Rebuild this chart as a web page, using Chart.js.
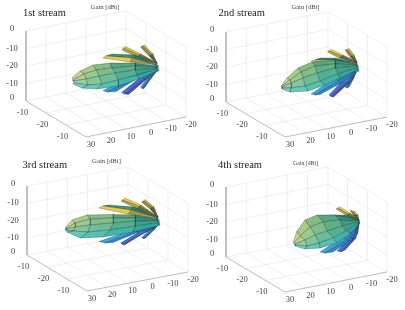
<!DOCTYPE html>
<html>
<head>
<meta charset="utf-8">
<title>Gain per stream</title>
<script src="https://cdn.jsdelivr.net/npm/chart.js@4"></script>
<style>
    body { margin: 0; background: #fff; }
    canvas { position: absolute; filter: blur(0.35px); }
</style>
</head>
<body>
<script>
// tick labels, same on all four panels
const zTickLabels = ["0", "-10", "-20", "-10", "0"];
const xTickLabels = ["30", "20", "10", "0", "-10", "-20"];
const yTickLabels = ["-10", "-20", "-10"];
const streamTitles = ["1st stream", "2nd stream", "3rd stream", "4th stream"];

// box corners: left top, left bottom, front, right
const stream1Box = [[26, 31], [26, 101], [86, 137], [186, 117]];
const stream2Box = [[21, 32], [21, 102], [80, 137], [182, 117]];
const stream3Box = [[27, 31], [27, 100], [87, 136], [188, 117]];
const stream4Box = [[21, 32], [21, 102], [80, 137], [182, 117]];

// facet colours, apex to nose, top strip to bottom strip
const mainColors = [
    ["#35907a", "#55a67e", "#86bb82", "#aaca86", "#c8d48e"],
    ["#3c9b80", "#5fb088", "#7fbe8a", "#9bc98e", "#b4d194"],
    ["#38a28c", "#52b094", "#6cbd98", "#82c69c", "#95cea2"],
    ["#33a8a2", "#44b4aa", "#55c0b2", "#64c8ba", "#74cfc4"]
];
const yellowColors = [["#8f8440", "#f0d23c"], ["#666a3c", "#b9a648"]];
const brownColors = [["#777242", "#c9ad4a"], ["#565c3c", "#968a44"]];
const leftColors = [["#2a7a6c", "#438f76"], ["#a89c44", "#eccc42"]];
const blueColors = [["#2f94c8", "#3ba2dc"], ["#2c80c4", "#2f86cc"]];
const deepColors = [["#3384c8", "#3f70d0"], ["#3a68bc", "#5048b4"]];
const nearColors = [["#2f84c4", "#3a8ed0"], ["#2c68a8", "#3a5aa8"]];
const capColors = [["#2fa09c", "#3bb0a6"]];

// lobe lines, each one runs apex to tip, stacked top to bottom
const stream1Main = [
    [[157, 66], [135, 63], [110, 63], [93, 65], [80, 71], [72, 78]],
    [[157, 67], [135, 66], [112, 68], [96, 70], [84, 74], [73, 80]],
    [[157, 68], [135, 70], [115, 73], [99, 76], [86, 79], [73, 81]],
    [[157, 69], [137, 75], [118, 80], [102, 84], [88, 85], [74, 83]],
    [[157, 71], [139, 79], [118, 86], [97, 89], [82, 88], [73, 84]]
];
const stream1Up = [
    [[157, 63], [141, 54], [125, 46.5]],
    [[157, 63], [139, 55], [123.5, 48]],
    [[157, 64], [137, 57], [122, 50]]
];
const stream1Back = [
    [[157, 63], [153, 54], [144.5, 45]],
    [[157, 63], [151, 54.5], [142.5, 46]],
    [[157, 64], [149, 56], [140.5, 47]]
];
const stream1Left = [
    [[157, 65], [135, 55], [112, 54]],
    [[157, 65], [132, 58], [106, 56]],
    [[157, 65], [130, 62], [103, 58]]
];
const stream1LowA = [
    [[157, 69], [133, 76], [103, 90.5]],
    [[157, 70], [135, 78.5], [107, 92]],
    [[157, 70], [138, 78], [116, 91.5]]
];
const stream1LowB = [
    [[157, 70], [142, 76], [121.5, 92.5]],
    [[157, 70], [144, 79], [124.5, 94]],
    [[157, 71], [148, 78], [128.5, 94.5]]
];
const stream1LowC = [
    [[157, 70], [150, 75], [140.5, 87]],
    [[157, 70], [151.5, 76.5], [142, 88.5]],
    [[157, 71], [153, 76], [144, 88.5]]
];
const stream1Cap = [[[155, 64], [158, 65]], [[155, 72], [159, 71]]];

const stream2Main = [
    [[152, 64], [130, 60], [107, 62], [93, 68], [82, 78], [76, 86]],
    [[152, 65], [130, 64], [110, 66], [96, 72], [85, 80], [77, 86]],
    [[152, 66], [130, 68], [112, 73], [98, 78], [86, 83], [77, 87]],
    [[152, 68], [133, 74], [115, 81], [100, 86], [86, 88], [77, 88]],
    [[152, 70], [135, 78], [120, 85], [103, 91], [85, 92], [77, 89]]
];
const stream2Up = [
    [[152, 62], [138, 55], [126, 49.5]],
    [[152, 62], [136, 56], [124, 51]],
    [[152, 63], [134, 58], [122.5, 52]]
];
const stream2Back = [
    [[152, 62], [149, 55], [144, 48.5]],
    [[152, 62], [147, 56], [142, 49.5]],
    [[152, 63], [145, 57], [140, 50]]
];
const stream2Left = [
    [[152, 63], [130, 58], [115, 58]],
    [[152, 63], [128, 60], [110, 60]],
    [[152, 64], [126, 63], [106, 61]]
];
const stream2LowA = [
    [[152, 69], [130, 78], [106, 94]],
    [[152, 70], [133, 81], [110, 95]],
    [[152, 71], [136, 83], [115, 94.5]]
];
const stream2LowB = [
    [[152, 69], [138, 80], [124, 95]],
    [[152, 70], [141, 83], [126, 96.5]],
    [[152, 71], [144, 83], [128.5, 97]]
];
const stream2LowC = [
    [[152, 68], [146, 76], [140, 87]],
    [[152, 69], [147.5, 78], [142, 88]],
    [[152, 70], [149, 78], [144, 87]]
];
const stream2Cap = [[[150, 64], [153, 65]], [[150, 73], [154, 71]]];

const stream3Main = [
    [[158, 64], [135, 60], [113, 59.5], [87, 60], [72, 65], [65, 73]],
    [[158, 65], [135, 63], [113, 63], [90, 64], [75, 68], [66, 73.5]],
    [[158, 66], [135, 66], [113, 68], [90, 70], [75, 72], [66, 74]],
    [[158, 68], [135, 71], [110, 75], [88, 77], [73, 76], [66, 75]],
    [[158, 71], [133, 77], [103, 82], [80, 83], [67, 77], [65, 74]]
];
const stream3Up = [
    [[158, 62], [141, 50], [124.5, 43]],
    [[158, 62], [139, 51.5], [122.5, 45]],
    [[158, 63], [137, 53.5], [121, 46]]
];
const stream3Back = [
    [[158, 62], [154, 52], [145, 44.5]],
    [[158, 62], [152, 52.5], [143.5, 46]],
    [[158, 63], [150, 54], [141.5, 47]]
];
const stream3Left = [
    [[158, 63], [134, 52], [108, 50]],
    [[158, 63], [131, 55], [103, 51]],
    [[158, 64], [128, 59], [99, 53]]
];
const stream3LowA = [
    [[158, 69], [135, 74], [99, 86.5]],
    [[158, 69], [136, 76.5], [105, 88]],
    [[158, 70], [139, 77], [113, 87.5]]
];
const stream3LowB = [
    [[158, 69], [144, 74], [120.5, 88]],
    [[158, 70], [146, 77], [122.5, 89.5]],
    [[158, 70], [149, 75], [124.5, 90]]
];
const stream3LowC = [
    [[158, 68], [152, 73], [141.5, 82.5]],
    [[158, 69], [153, 74.5], [143, 83.5]],
    [[158, 70], [155, 74], [145, 83.5]]
];
const stream3Cap = [[[156, 63], [159, 65]], [[156, 71], [160, 70]]];

const stream4Main = [
    [[154, 65], [130, 60], [112, 60], [100, 65], [92, 76], [88, 88]],
    [[154, 66], [135, 65], [118, 67], [105, 72], [95, 81], [89, 88]],
    [[154, 67], [137, 71], [122, 76], [110, 80], [100, 85], [90, 89]],
    [[154, 68], [141, 76], [128, 83], [114, 88], [102, 91], [90, 90]],
    [[154, 69], [146, 78], [132, 88], [115, 93], [100, 94], [90, 91]]
];
const stream4Up = [
    [[154, 65], [145, 58], [135, 52]],
    [[154, 65], [143, 59], [133, 53]],
    [[154, 66], [141, 60], [131, 54]]
];
const stream4Back = [
    [[154, 65], [153, 60], [150, 56.5]],
    [[154, 65], [150, 60], [147.5, 56]],
    [[154, 65], [148, 60], [145, 55]]
];
const stream4Left = [
    [[154, 65], [140, 60], [125, 60]],
    [[154, 65], [137, 62], [120, 62]],
    [[154, 66], [134, 65], [117, 63.5]]
];
const stream4LowA = [
    [[154, 68], [138, 82], [115, 97]],
    [[154, 69], [141, 85], [120, 98]],
    [[154, 69], [144, 86], [128, 97]]
];
const stream4LowB = [
    [[154, 68], [146, 82], [132, 96]],
    [[154, 68], [148, 84], [136, 97]],
    [[154, 68], [151, 83], [140, 95]]
];
const stream4LowC = [
    [[154, 68], [150, 76], [144, 88]],
    [[154, 68], [151.5, 78], [147, 87]],
    [[154, 68], [153, 78], [150, 83]]
];
const stream4Cap = [[[152, 65], [154, 65]], [[152, 69], [155, 68]]];

const panels = [
    { left: 0, top: 0, width: 205, titleX: 23, titleY: 13, gainY: 7, gainSize: 6.7, box: stream1Box, main: stream1Main, up: stream1Up, back: stream1Back, side: stream1Left, lowA: stream1LowA, lowB: stream1LowB, lowC: stream1LowC, cap: stream1Cap },
    { left: 205, top: 0, width: 200, titleX: 13.5, titleY: 13, gainY: 7, gainSize: 6.5, box: stream2Box, main: stream2Main, up: stream2Up, back: stream2Back, side: stream2Left, lowA: stream2LowA, lowB: stream2LowB, lowC: stream2LowC, cap: stream2Cap },
    { left: 0, top: 155, width: 205, titleX: 22.5, titleY: 10.5, gainY: 6.5, gainSize: 6.7, box: stream3Box, main: stream3Main, up: stream3Up, back: stream3Back, side: stream3Left, lowA: stream3LowA, lowB: stream3LowB, lowC: stream3LowC, cap: stream3Cap },
    { left: 205, top: 155, width: 200, titleX: 13, titleY: 10.5, gainY: 8, gainSize: 5.8, box: stream4Box, main: stream4Main, up: stream4Up, back: stream4Back, side: stream4Left, lowA: stream4LowA, lowB: stream4LowB, lowC: stream4LowC, cap: stream4Cap }
];

const serif = '"Liberation Serif", serif';

function toPoint(p) { return { x: p[0], y: p[1] }; }

function mix(a, b, t) { return [a[0] + (b[0] - a[0]) * t, a[1] + (b[1] - a[1]) * t]; }

function segment(a, b, color, width) {
    return {
        data: [a, b].map(toPoint),
        showLine: true,
        pointRadius: 0,
        borderColor: color,
        borderWidth: width
    };
}

// one filled dataset per facet
function meshFacets(lines, colors) {
    let out = [];
    for (let i = 0; i < lines.length - 1; i++) {
        for (let j = 0; j < lines[i].length - 1; j++) {
            let quad = [lines[i][j], lines[i][j + 1], lines[i + 1][j + 1], lines[i + 1][j], lines[i][j]];
            out.push({
                data: quad.map(toPoint),
                showLine: true,
                pointRadius: 0,
                tension: 0,
                fill: "shape",
                backgroundColor: colors[i][j],
                borderColor: "rgba(20,30,30,0.55)",
                borderWidth: 0.5
            });
        }
    }
    return out;
}

function gridLines(box) {
    let [leftTop, leftBottom, front, right] = box;
    let height = leftBottom[1] - leftTop[1];
    let backBottom = [leftBottom[0] + right[0] - front[0], leftBottom[1] + right[1] - front[1]];
    let up = p => [p[0], p[1] - height];
    let out = [];
    let light = "#e6e6e6";

    for (let i = 1; i < 5; i++) {
        let t = i / 5;
        out.push(segment(mix(leftBottom, backBottom, t), up(mix(leftBottom, backBottom, t)), light, 0.7));
        out.push(segment(mix(front, right, t), mix(leftBottom, backBottom, t), light, 0.7));
    }
    for (let i = 1; i < 3; i++) {
        let t = i / 3;
        out.push(segment(mix(backBottom, right, t), up(mix(backBottom, right, t)), light, 0.7));
        out.push(segment(mix(leftBottom, front, t), mix(backBottom, right, t), light, 0.7));
    }
    for (let i = 0; i < 4; i++) {
        let dz = height * i / 4;
        out.push(segment([leftBottom[0], leftBottom[1] - dz], [backBottom[0], backBottom[1] - dz], light, 0.7));
        out.push(segment([backBottom[0], backBottom[1] - dz], [right[0], right[1] - dz], light, 0.7));
    }
    out.push(segment(up(leftBottom), up(backBottom), light, 0.7));
    out.push(segment(up(backBottom), up(right), light, 0.7));
    out.push(segment(backBottom, up(backBottom), light, 0.7));
    out.push(segment(right, up(right), light, 0.7));

    let edge = "#b5b5b5";
    out.push(segment(leftTop, leftBottom, edge, 0.9));
    out.push(segment(leftBottom, front, edge, 0.9));
    out.push(segment(front, right, edge, 0.9));
    return out;
}

// axis text goes through the same scales as the marks
const axisText = {
    id: "axisText",
    afterDatasetsDraw(chart, args, opts) {
        let ctx = chart.ctx;
        let sx = chart.scales.x, sy = chart.scales.y;
        let [leftTop, leftBottom, front, right] = opts.panel.box;
        let put = (txt, x, y, font, color, align) => {
            ctx.font = font;
            ctx.fillStyle = color;
            ctx.textAlign = align || "center";
            ctx.textBaseline = "middle";
            ctx.fillText(txt, sx.getPixelForValue(x), sy.getPixelForValue(y));
        };
        ctx.save();
        put(opts.title, opts.panel.titleX, opts.panel.titleY, "10.5px " + serif, "#222", "left");
        put("Gain [dBi]", (leftTop[0] + right[0]) / 2 - 1, opts.panel.gainY, opts.panel.gainSize + "px " + serif, "#444");
        let tick = "8.5px " + serif;
        zTickLabels.forEach((t, i) => {
            let p = mix(leftTop, leftBottom, i / 4);
            let nudge = i === 0 ? -2 : i === 4 ? -3 : 0;
            put(t, p[0] - 14, p[1] + nudge, tick, "#444");
        });
        xTickLabels.forEach((t, i) => {
            let p = mix(front, right, i / 5);
            put(t, p[0] + 5, p[1] + 7.5, tick, "#444");
        });
        yTickLabels.forEach((t, i) => {
            let p = mix(leftBottom, front, i / 3);
            put(t, p[0] - 3.5, p[1] + 11.5, tick, "#444");
        });
        ctx.restore();
    }
};

panels.forEach((panel, n) => {
    let canvas = document.createElement("canvas");
    canvas.width = panel.width;
    canvas.height = 155;
    canvas.style.left = panel.left + "px";
    canvas.style.top = panel.top + "px";
    document.body.appendChild(canvas);

    // painter's order, chart.js draws the last dataset first so it is reversed below
    let layers = [].concat(
        gridLines(panel.box),
        meshFacets(panel.back, brownColors),
        meshFacets(panel.up, yellowColors),
        meshFacets(panel.side, leftColors),
        meshFacets(panel.lowC, nearColors),
        meshFacets(panel.lowB, deepColors),
        meshFacets(panel.lowA, blueColors),
        meshFacets(panel.cap, capColors),
        meshFacets(panel.main, mainColors)
    );

    new Chart(canvas, {
        type: "scatter",
        data: { datasets: layers.reverse() },
        plugins: [axisText],
        options: {
            responsive: false,
            animation: false,
            layout: { padding: 0 },
            scales: {
                x: { type: "linear", display: false, min: 0, max: panel.width },
                y: { type: "linear", display: false, min: 0, max: 155, reverse: true }
            },
            plugins: {
                legend: { display: false },
                tooltip: { enabled: false },
                axisText: { panel: panel, title: streamTitles[n] }
            }
        }
    });
});
</script>
</body>
</html>
